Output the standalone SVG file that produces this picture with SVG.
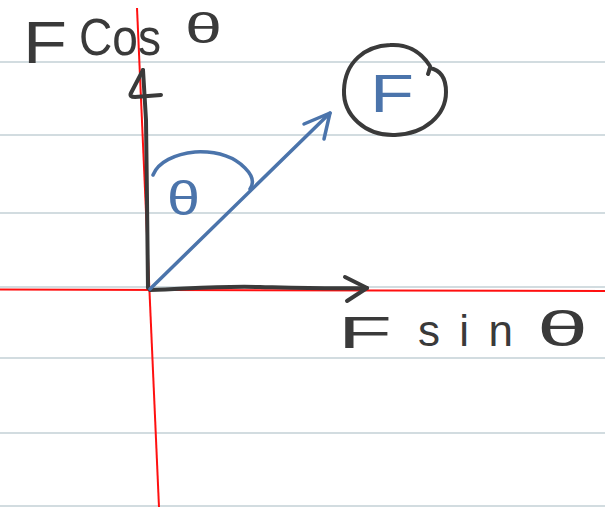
<svg xmlns="http://www.w3.org/2000/svg" width="605" height="507" viewBox="0 0 605 507">
<style>
.rule{stroke:#c3d1d6;stroke-width:1.5;fill:none}
.red{stroke:#ff1010;stroke-width:2;fill:none}
.ink{stroke:#3a3a3a;stroke-width:4;fill:none;stroke-linecap:round;stroke-linejoin:round}
.blue{stroke:#4b74ab;stroke-width:3.5;fill:none;stroke-linecap:round;stroke-linejoin:round}
.tk{font-family:"Liberation Sans",Arial,sans-serif;fill:#3a3a3a}
.tb{font-family:"Liberation Sans",Arial,sans-serif;fill:#4b74ab}
</style>
<rect width="605" height="507" fill="#ffffff"/>
<g id="paper">
<line class="rule" x1="0" y1="62" x2="605" y2="62"/>
<line class="rule" x1="0" y1="135" x2="605" y2="135"/>
<line class="rule" x1="0" y1="213" x2="605" y2="213"/>
<line class="rule" x1="0" y1="287" x2="605" y2="287"/>
<line class="rule" x1="0" y1="358" x2="605" y2="358"/>
<line class="rule" x1="0" y1="433" x2="605" y2="433"/>
<line class="rule" x1="0" y1="506" x2="605" y2="506"/>
<line class="red" x1="0" y1="289.5" x2="605" y2="291"/>
<line class="red" x1="137" y1="8" x2="159" y2="507"/>
</g>
<g id="connectors">
<path class="ink" d="M148,288 L147,200 L146,120 L143,70"/>
<path class="ink" d="M143,70 L131,93 Q129,97 135,97 L161,95"/>
<path class="ink" d="M150,290 C200,288 220,286 260,287 S330,289 367,288"/>
<path class="ink" d="M345,277 L367,288 L347,301"/>
<path class="blue" d="M150,289 L330,113"/>
<path class="blue" d="M304,124 L330,113 L324,139"/>
</g>
<g id="angle">
<path class="blue" d="M153,175 C158,162 175,154 195,152 C215,151 232,155 245,168 C252,175 255,182 250,189"/>
<text class="tb" x="167" y="215" font-size="48" textLength="33" lengthAdjust="spacingAndGlyphs">θ</text>
</g>
<g id="force-F">
<path class="ink" d="M430,66 C420,50 405,44 390,45 C365,46 345,62 344,90 C343,115 365,136 395,135 C425,134 446,115 446,92 C446,78 440,70 430,68 C429,70 429,72 428,74"/>
<text class="tb" x="370" y="112" font-size="54" textLength="44" lengthAdjust="spacingAndGlyphs">F</text>
</g>
<g id="label-Fcos">
<text class="tk" x="23" y="63" font-size="60" textLength="44" lengthAdjust="spacingAndGlyphs">F</text>
<text class="tk" x="79" y="55" font-size="52" textLength="82" lengthAdjust="spacingAndGlyphs">Cos</text>
<text class="tk" x="185" y="43" font-size="42" textLength="37" lengthAdjust="spacingAndGlyphs">θ</text>
</g>
<g id="label-Fsin">
<text class="tk" x="338" y="348" font-size="44" textLength="54" lengthAdjust="spacingAndGlyphs">F</text>
<text class="tk" x="418" y="346" font-size="44" textLength="95" lengthAdjust="spacing">sin</text>
<text class="tk" x="537" y="346" font-size="50" textLength="51" lengthAdjust="spacingAndGlyphs">θ</text>
</g>
</svg>
